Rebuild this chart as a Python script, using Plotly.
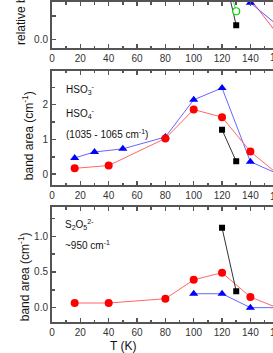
import plotly.graph_objects as go
from plotly.subplots import make_subplots

# ---------------- data ----------------
# top panel (relative band area) - only lower part visible
top_black_T = [120, 130]
top_black_v = [0.80, 0.15]
top_green_T = [120, 130]
top_green_v = [0.82, 0.30]
top_red_T = [140, 160]
top_red_v = [0.43, 0.04]
top_blue_T = [140, 160]
top_blue_v = [0.39, 0.14]

# middle panel: HSO3- / HSO4- (1035 - 1065 cm-1)
mid_blue_T = [16, 30, 50, 80, 100, 120, 140, 160]
mid_blue_v = [0.47, 0.64, 0.73, 1.07, 2.14, 2.48, 0.36, 0.0]
mid_red_T = [16, 40, 80, 100, 120, 140, 160]
mid_red_v = [0.17, 0.25, 1.03, 1.86, 1.64, 0.65, -0.02]
mid_black_T = [120, 130]
mid_black_v = [1.28, 0.37]

# bottom panel: S2O5 2- (~950 cm-1)
bot_red_T = [16, 40, 80, 100, 120, 140, 160]
bot_red_v = [0.065, 0.065, 0.125, 0.39, 0.49, 0.15, -0.01]
bot_blue_T = [100, 120, 140, 160]
bot_blue_v = [0.195, 0.195, 0.0, 0.0]
bot_black_T = [120, 130]
bot_black_v = [1.12, 0.23]

# ---------------- layout helpers ----------------
W, H = 273, 353
ML, MR, MT, MB = 52, 0, 0, 31
PW = W - ML - MR
PH = H - MT - MB
PX_PER_T = 1.417


def py(pix):
    return (H - MB - pix) / PH


def px(pix):
    return (pix - ML) / PW


fig = make_subplots(rows=3, cols=1)

RED = "#ff0000"
BLUE = "#0000ff"
BLACK = "#000000"
GREEN = "#00dd00"


def add(T, v, row, color, symbol, size, linecolor, fill=True):
    fig.add_trace(
        go.Scatter(
            x=T, y=v, mode="lines+markers",
            line=dict(color=linecolor, width=1),
            marker=dict(color=color if fill else "white", symbol=symbol, size=size,
                        line=dict(color=color, width=1.2 if not fill else 0)),
            showlegend=False, hoverinfo="skip",
        ),
        row=row, col=1,
    )


# top
add(top_black_T, top_black_v, 1, BLACK, "square", 6, "#333333")
add(top_green_T, top_green_v, 1, GREEN, "circle", 7, "#55dd55", fill=False)
add(top_red_T, top_red_v, 1, RED, "circle", 8, "#ff5555")
add(top_blue_T, top_blue_v, 1, BLUE, "triangle-up", 8, "#5555ff")
# middle
add(mid_blue_T, mid_blue_v, 2, BLUE, "triangle-up", 8, "#6666ff")
add(mid_red_T, mid_red_v, 2, RED, "circle", 8, "#ff6666")
add(mid_black_T, mid_black_v, 2, BLACK, "square", 6, "#333333")
# bottom
add(bot_red_T, bot_red_v, 3, RED, "circle", 8, "#ff6666")
add(bot_blue_T, bot_blue_v, 3, BLUE, "triangle-up", 8, "#6666ff")
add(bot_black_T, bot_black_v, 3, BLACK, "square", 6, "#333333")

xmax = PW / PX_PER_T
AX = "#555555"
TICKF = dict(family="Liberation Sans, Arial, sans-serif", size=10, color="#333333")

common_x = dict(range=[0, xmax], dtick=20, tick0=0, ticks="inside", ticklen=4, tickwidth=1.5,
                tickcolor=AX, showline=True, linecolor=AX, linewidth=2, showgrid=False,
                zeroline=False, tickfont=TICKF, mirror="allticks",
                minor=dict(dtick=10, ticks="inside", ticklen=2.5, tickcolor=AX, tickwidth=1.5))
common_y = dict(ticks="inside", ticklen=4, tickwidth=1.5, tickcolor=AX, showline=True,
                linecolor=AX, linewidth=2, showgrid=False, zeroline=False, tickfont=TICKF,
                mirror=False)

fig.update_layout(
    xaxis=dict(common_x, domain=[0, 1]),
    xaxis2=dict(common_x, domain=[0, 1]),
    xaxis3=dict(common_x, domain=[0, 1]),
    yaxis=dict(common_y, domain=[py(46.7), 1.0], range=[-0.095, 0.398], dtick=0.5,
               tickformat=".1f", minor=dict(dtick=0.25, ticks="inside", ticklen=4, tickcolor=AX, tickwidth=1.5)),
    yaxis2=dict(common_y, domain=[py(184.3), py(69)], range=[-0.314, 2.98], dtick=1,
                minor=dict(dtick=0.5, ticks="inside", ticklen=2.5, tickcolor=AX, tickwidth=1.5)),
    yaxis3=dict(common_y, domain=[0, py(206.7)], range=[-0.201, 1.405], dtick=0.5,
                tickformat=".1f", minor=dict(dtick=0.25, ticks="inside", ticklen=2.5, tickcolor=AX, tickwidth=1.5)),
    width=W, height=H,
    margin=dict(l=ML, r=MR, t=MT, b=MB),
    paper_bgcolor="white", plot_bgcolor="white",
    font=dict(family="Liberation Sans, Arial, sans-serif", color="#111111"),
    hovermode=False,
)

TF = dict(family="Liberation Sans, Arial, sans-serif", size=12, color="#111111")
AF = dict(family="Liberation Sans, Arial, sans-serif", size=10, color="#111111")
ann = []
# y titles
ann.append(dict(text="relative band area", x=px(21), y=py(-5), xref="paper", yref="paper",
                textangle=-90, xanchor="center", yanchor="middle", showarrow=False, font=TF))
ann.append(dict(text="band area (cm<sup>-1</sup>)", x=px(28), y=py(135), xref="paper", yref="paper",
                textangle=-90, xanchor="center", yanchor="middle", showarrow=False, font=TF))
ann.append(dict(text="band area (cm<sup>-1</sup>)", x=px(24), y=py(277), xref="paper", yref="paper",
                textangle=-90, xanchor="center", yanchor="middle", showarrow=False, font=TF))
# x title
ann.append(dict(text="T (K)", x=px(123), y=py(346), xref="paper", yref="paper",
                xanchor="center", yanchor="middle", showarrow=False, font=TF))
# partially visible 160 tick labels
for ypix in (56, 196, 333):
    ann.append(dict(text="160", x=px(ML + 160 * PX_PER_T), y=py(ypix), xref="paper", yref="paper",
                    xanchor="center", yanchor="middle", showarrow=False, font=TICKF))
# panel labels
ann.append(dict(text="HSO<sub>3</sub><sup>-</sup>", x=px(64), y=py(88), xref="paper", yref="paper",
                xanchor="left", yanchor="middle", showarrow=False, font=AF))
ann.append(dict(text="HSO<sub>4</sub><sup>-</sup>", x=px(64), y=py(112), xref="paper", yref="paper",
                xanchor="left", yanchor="middle", showarrow=False, font=AF))
ann.append(dict(text="(1035 - 1065 cm<sup>-1</sup>)", x=px(64), y=py(133), xref="paper", yref="paper",
                xanchor="left", yanchor="middle", showarrow=False, font=AF))
ann.append(dict(text="S<sub>2</sub>O<sub>5</sub><sup>2-</sup>", x=px(63), y=py(224), xref="paper", yref="paper",
                xanchor="left", yanchor="middle", showarrow=False, font=AF))
ann.append(dict(text="~950 cm<sup>-1</sup>", x=px(63), y=py(245), xref="paper", yref="paper",
                xanchor="left", yanchor="middle", showarrow=False, font=AF))
fig.update_layout(annotations=ann)

fig.write_html(
    "out.html",
    config={"displayModeBar": False, "staticPlot": True},
    post_script="document.body.style.margin='0';document.body.style.padding='0';"
                "document.body.style.overflow='hidden';"
                "document.documentElement.style.overflow='hidden';",
)
